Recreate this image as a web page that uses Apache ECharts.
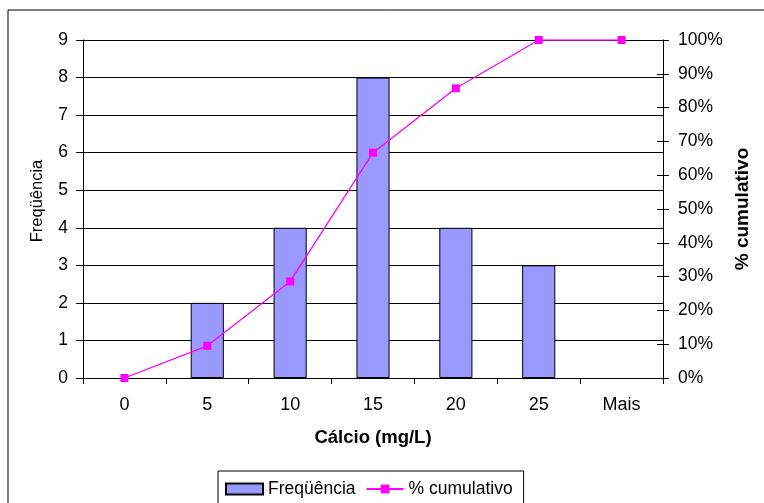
<!DOCTYPE html>
<html>
<head>
<meta charset="utf-8">
<script src="https://cdn.jsdelivr.net/npm/echarts@6/dist/echarts.min.js"></script>
<style>
  html, body { margin: 0; padding: 0; background: #fff; }
  #chart { width: 764px; height: 503px; }
</style>
</head>
<body>
<div id="chart"></div>
<script>
// Histogram of calcium concentrations with cumulative percentage
const categories = ['0', '5', '10', '15', '20', '25', 'Mais'];
const frequencia = [0, 2, 4, 8, 4, 3, 0];
const cumulativo = [0, 9.52, 28.57, 66.67, 85.71, 100, 100];

const FONT = 'Liberation Sans, Arial, sans-serif';
const chart = echarts.init(document.getElementById('chart'), null, { renderer: 'canvas' });

// empty bins get no outline so nothing is drawn on the baseline
const barData = frequencia.map(v => ({
  value: v,
  itemStyle: v === 0 ? { borderWidth: 0, opacity: 0 } : undefined
}));

chart.setOption({
  animation: false,
  backgroundColor: '#fff',
  textStyle: { fontFamily: FONT, color: '#000' },
  graphic: [{
    type: 'rect',
    shape: { x: 8, y: 10, width: 800, height: 600 },
    style: { fill: 'none', stroke: '#000', lineWidth: 1 },
    z: -1
  }],
  grid: { left: 83, right: 101, top: 40, bottom: 125, containLabel: false },
  legend: {
    top: 471,
    left: 218,
    padding: [9, 11, 9, 7],
    borderColor: '#000',
    borderWidth: 1,
    itemGap: 10,
    itemWidth: 37,
    itemHeight: 11,
    textStyle: { fontFamily: FONT, fontSize: 17.5, color: '#000' },
    data: [
      { name: 'Freqüência', icon: 'rect' },
      { name: '% cumulativo' }
    ]
  },
  xAxis: {
    type: 'category',
    data: categories,
    boundaryGap: true,
    name: 'Cálcio (mg/L)',
    nameLocation: 'middle',
    nameGap: 50,
    nameTextStyle: { fontFamily: FONT, fontSize: 18.5, fontWeight: 'bold', color: '#000' },
    axisLine: { lineStyle: { color: '#000', width: 1 } },
    axisTick: { show: true, length: 6, lineStyle: { color: '#000' } },
    axisLabel: { fontFamily: FONT, fontSize: 18, color: '#000', margin: 18 }
  },
  yAxis: [
    {
      type: 'value',
      min: 0, max: 9, interval: 1,
      position: 'left',
      name: 'Freqüência',
      nameLocation: 'middle',
      nameGap: 37,
      nameRotate: 90,
      nameTextStyle: { fontFamily: FONT, fontSize: 16.5, color: '#000', padding: [0, 0, 0, 16] },
      axisLine: { show: true, lineStyle: { color: '#000', width: 1 } },
      axisTick: { show: true, length: 7, lineStyle: { color: '#000' } },
      axisLabel: { fontFamily: FONT, fontSize: 17.5, color: '#000', margin: 15 },
      splitLine: { show: true, lineStyle: { color: '#000', width: 1 } }
    },
    {
      type: 'value',
      min: 0, max: 100, interval: 10,
      position: 'right',
      name: '% cumulativo',
      nameLocation: 'middle',
      nameGap: 70,
      nameRotate: 90,
      nameTextStyle: { fontFamily: FONT, fontSize: 19, fontWeight: 'bold', color: '#000' },
      axisLine: { show: true, lineStyle: { color: '#000', width: 1 } },
      axisTick: { show: true, length: 6, lineStyle: { color: '#000' } },
      axisLabel: { fontFamily: FONT, fontSize: 17.5, color: '#000', margin: 15, formatter: '{value}%' },
      splitLine: { show: false }
    },
    {
      // inner half of the crossing ticks on the right-hand axis
      type: 'value',
      min: 0, max: 100, interval: 10,
      position: 'right',
      axisLine: { show: false },
      axisTick: { show: true, inside: true, length: 6, lineStyle: { color: '#000' } },
      axisLabel: { show: false },
      splitLine: { show: false }
    }
  ],
  series: [
    {
      name: 'Freqüência',
      type: 'bar',
      yAxisIndex: 0,
      data: barData,
      barWidth: '40%',
      itemStyle: { color: '#9999FF', borderColor: '#000', borderWidth: 1 }
    },
    {
      name: '% cumulativo',
      type: 'line',
      yAxisIndex: 1,
      data: cumulativo,
      symbol: 'rect',
      symbolSize: 8,
      lineStyle: { color: '#FF00FF', width: 1.3 },
      itemStyle: { color: '#FF00FF' },
      z: 5
    }
  ]
});
</script>
</body>
</html>
